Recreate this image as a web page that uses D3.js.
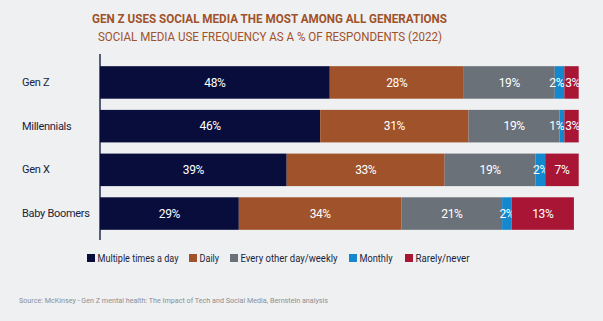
<!DOCTYPE html>
<html><head><meta charset="utf-8">
<script src="https://cdn.jsdelivr.net/npm/d3@7"></script>
<style>
html,body{margin:0;padding:0;background:#eff0f2;}
svg{display:block;}
text{font-family:Roboto,"Liberation Sans",sans-serif;}
</style></head>
<body><svg id="c" width="603" height="321"></svg>
<script>
const categories = ["Gen Z","Millennials","Gen X","Baby Boomers"];
const seriesNames = ["Multiple times a day","Daily","Every other day/weekly","Monthly","Rarely/never"];
const multipleTimes = [48,46,39,29];
const daily = [28,31,33,34];
const everyOther = [19,19,19,21];
const monthly = [2,1,2,2];
const rarely = [3,3,7,13];
const colors = ["#080d3b","#a0522a","#6b7178","#1488cf","#a81535"];
const title = "GEN Z USES SOCIAL MEDIA THE MOST AMONG ALL GENERATIONS";
const subtitle = "SOCIAL MEDIA USE FREQUENCY AS A % OF RESPONDENTS (2022)";
const source = "Source: McKinsey - Gen Z mental health: The Impact of Tech and Social Media, Bernstein analysis";

const seriesValues = [multipleTimes, daily, everyOther, monthly, rarely];
const rows = categories.map((c,i)=>{
  const o = {cat:c, idx:i};
  seriesNames.forEach((s,j)=>o[s]=seriesValues[j][i]);
  return o;
});

const svg = d3.select("#c");
const x = d3.scaleLinear().domain([0,100]).range([100,578.7]);
const y = d3.scaleBand().domain(categories).range([55,241]).paddingInner(0.256).paddingOuter(0.256);

svg.append("text").attr("x",269.5).attr("y",23).attr("text-anchor","middle")
  .attr("font-size",12.5).attr("font-weight","bold").attr("fill","#a0522a")
  .attr("textLength",355).attr("lengthAdjust","spacingAndGlyphs").text(title);
svg.append("text").attr("x",270).attr("y",41).attr("text-anchor","middle")
  .attr("font-size",12).attr("fill","#a0522a")
  .attr("textLength",344).attr("lengthAdjust","spacingAndGlyphs").text(subtitle);

const stack = d3.stack().keys(seriesNames)(rows);
const g = svg.append("g");
// crowded pair: small last two segments -> push labels apart
const crowded = d => d.data["Rarely/never"] < 5;
stack.forEach((layer,j)=>{
  g.selectAll(null).data(layer).enter().append("rect")
    .attr("x",d=>x(d[0])).attr("width",d=>x(d[1])-x(d[0]))
    .attr("y",d=>y(d.data.cat)).attr("height",y.bandwidth())
    .attr("fill",colors[j]);
  g.selectAll(null).data(layer).enter().append("text")
    .attr("x",d=>{
      if (j===3 && crowded(d)) return x(d[1]) - 0.3;
      if (j===4 && crowded(d)) return x(d[0]) + 0.8;
      return (x(d[0])+x(d[1]))/2;
    })
    .attr("y",d=>y(d.data.cat)+y.bandwidth()/2)
    .attr("dy","0.35em")
    .attr("text-anchor",d=>{
      if (j===3 && crowded(d)) return "end";
      if (j===4 && crowded(d)) return "start";
      return "middle";
    })
    .attr("font-size",12).attr("letter-spacing",-0.4).attr("fill","#ffffff")
    .text(d=>(d[1]-d[0])+"%");
});

const axis = svg.append("g").attr("transform","translate(100,0)")
  .call(d3.axisLeft(y).tickSize(0).tickSizeOuter(0));
axis.select(".domain").attr("d","M0,54V240").attr("stroke","#080d3b").attr("stroke-width",1.3);
axis.selectAll(".tick text").attr("text-anchor","start").attr("x",-78)
  .attr("font-size",11).attr("letter-spacing",-0.3).attr("fill","#1a1f3d").attr("font-family","Roboto,sans-serif");

const legX = [87,189,230,349,405];
const legW = [81,19.6,97,33,54];
const leg = svg.append("g");
seriesNames.forEach((s,j)=>{
  leg.append("rect").attr("x",legX[j]).attr("y",254).attr("width",8).attr("height",8).attr("fill",colors[j]);
  leg.append("text").attr("x",legX[j]+10.5).attr("y",258).attr("dy","0.35em")
    .attr("font-size",11.5).attr("fill","#1a1f3d")
    .attr("textLength",legW[j]).attr("lengthAdjust","spacingAndGlyphs").text(s);
});

svg.append("text").attr("x",19).attr("y",302.5).attr("font-size",8).attr("fill","#8a8f95")
  .attr("textLength",309).attr("lengthAdjust","spacingAndGlyphs").text(source);
</script></body></html>
